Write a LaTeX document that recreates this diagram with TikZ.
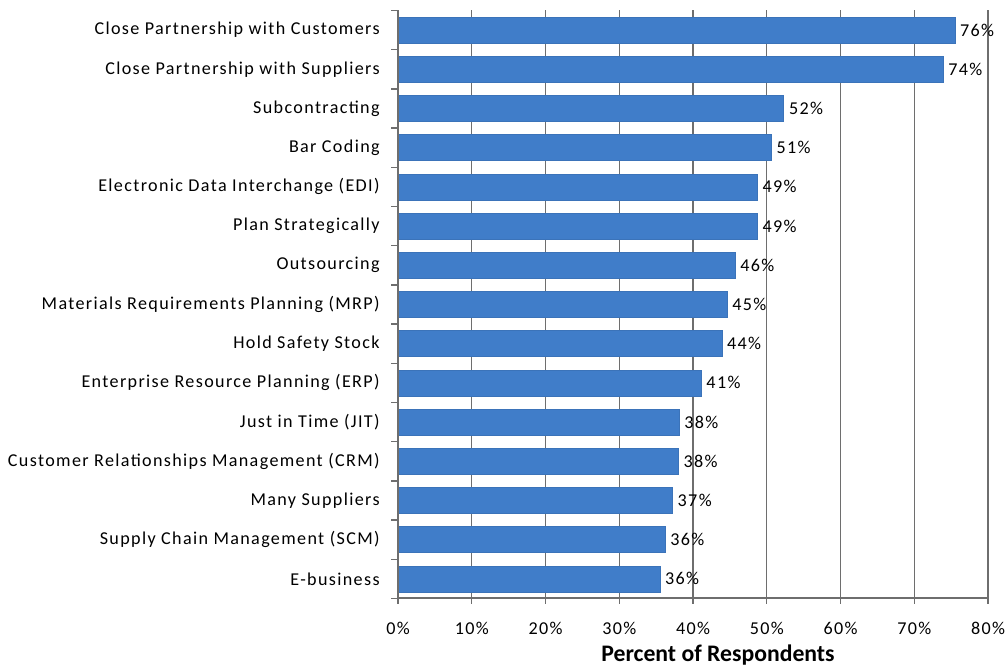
\documentclass[tikz,border=0pt]{standalone}
\usepackage{fontspec}
\setmainfont{Carlito}
\newfontfamily\chartfont[LetterSpace=7.5]{Carlito}
\definecolor{barblue}{RGB}{64,125,201}
\definecolor{axisgray}{RGB}{110,110,110}
\tikzset{
  catlabel/.style={anchor=east,inner sep=0pt,font=\chartfont\fontsize{10.3}{12}\selectfont},
  vallabel/.style={anchor=west,inner sep=0pt,font=\chartfont\fontsize{10.3}{12}\selectfont},
  ticklabel/.style={inner sep=0pt,font=\chartfont\fontsize{10.3}{12}\selectfont},
  bar/.style={fill=barblue,draw=barblue!92!black,line width=0.3pt},
}
\begin{document}
\begin{tikzpicture}[x=0.02cm,y=-0.02cm]
  \useasboundingbox (0,0) rectangle (1006,667);
  % grid lines
  \foreach \p in {1,...,8}
    \draw[axisgray,line width=0.6pt] (398+\p*73.75,10) -- (398+\p*73.75,598);
  % bars, categories and values
  \foreach \e/\v/\t [count=\i from 0] in {
      75.5/76/Close Partnership with Customers,
      73.9/74/Close Partnership with Suppliers,
      52.3/52/Subcontracting,
      50.6/51/Bar Coding,
      48.7/49/Electronic Data Interchange (EDI),
      48.7/49/Plan Strategically,
      45.7/46/Outsourcing,
      44.6/45/Materials Requirements Planning (MRP),
      43.9/44/Hold Safety Stock,
      41.1/41/Enterprise Resource Planning (ERP),
      38.1/38/Just in Time (JIT),
      38.0/38/Customer Relationships Management (CRM),
      37.2/37/Many Suppliers,
      36.2/36/Supply Chain Management (SCM),
      35.5/36/E-business}
  {
    \draw[bar] (398,30+\i*39.2-13) rectangle (398+\e*7.375,30+\i*39.2+13);
    \node[catlabel] (cat\i) at (380,30+\i*39.2) {\t};
    \node[vallabel] (val\i) at (398+\e*7.375+5,30+\i*39.2) {\v\%};
  }
  % axes
  \draw[axisgray,line width=0.8pt] (398,10) -- (398,598) -- (988,598);
  \foreach \k in {0,...,15}
    \draw[axisgray,line width=0.8pt] (391,10.4+\k*39.2) -- (398,10.4+\k*39.2);
  \foreach \p in {0,...,8}
  {
    \draw[axisgray,line width=0.8pt] (398+\p*73.75,598) -- (398+\p*73.75,604);
    \node[ticklabel] (tick\p) at (398+\p*73.75,628) {\the\numexpr\p*10\relax\%};
  }
  \node[font=\bfseries\fontsize{13.5}{15}\selectfont] (xtitle) at (718,655) {Percent of Respondents};
\end{tikzpicture}
\end{document}
